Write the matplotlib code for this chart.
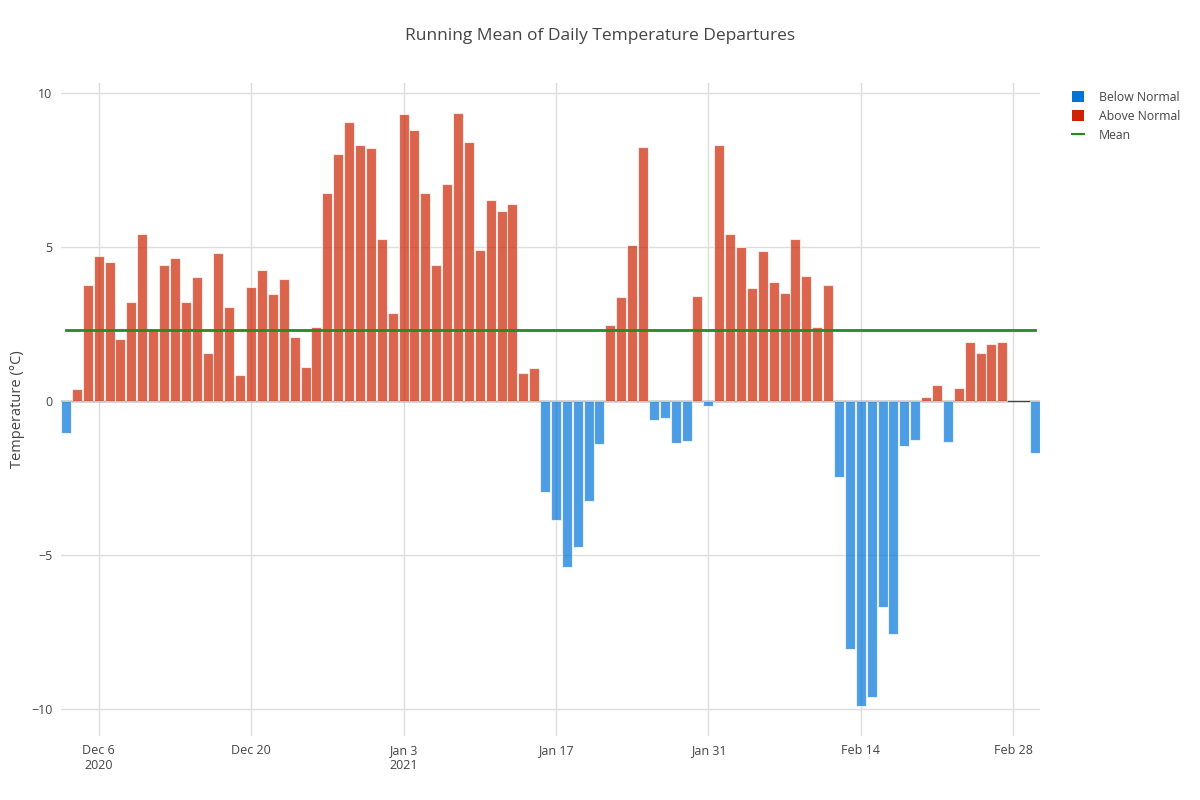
import numpy as np
import pandas as pd
import matplotlib.pyplot as plt
from matplotlib.lines import Line2D
from matplotlib.patches import Patch

# daily departures from normal (degC), Dec 3 2020 - Mar 2 2021, nan = no data
start_date = '2020-12-03'
departures = [
    -1.05, 0.38, 3.77, 4.72, 4.52, 2.02, 3.22, 5.43, 2.35, 4.42,
    4.66, 3.22, 4.03, 1.57, 4.81, 3.07, 0.86, 3.72, 4.27, 3.47,
    3.97, 2.07, 1.12, 2.42, 6.77, 8.02, 9.07, 8.32, 8.22, 5.27,
    2.87, 9.32, 8.82, 6.77, 4.42, 7.07, 9.37, 8.42, 4.92, 6.52,
    6.17, 6.42, 0.92, 1.07, -2.95, -3.85, -5.40, -4.75, -3.25, -1.40,
    2.47, 3.37, 5.07, 8.27, -0.60, -0.55, -1.35, -1.30, 3.42, -0.15,
    8.32, 5.42, 5.02, 3.67, 4.87, 3.87, 3.52, 5.27, 4.07, 2.42,
    3.77, -2.48, -8.05, -9.92, -9.60, -6.70, -7.55, -1.47, -1.27, 0.12,
    0.52, -1.32, 0.42, 1.92, 1.57, 1.87, 1.92, np.nan, np.nan, -1.70,
]
mean_value = 2.3

tick_dates = ['2020-12-06', '2020-12-20', '2021-01-03', '2021-01-17',
              '2021-01-31', '2021-02-14', '2021-02-28']
tick_labels = ['Dec 6\n2020', 'Dec 20', 'Jan 3\n2021', 'Jan 17',
               'Jan 31', 'Feb 14', 'Feb 28']

dates = pd.date_range(start_date, periods=len(departures))
vals = np.array(departures)
below = np.where(vals < 0, vals, np.nan)
above = np.where(vals >= 0, vals, np.nan)

blue = '#0074D9'
red = '#CC2200'
green = '#228B22'
txt = '#444444'

plt.rcParams['font.family'] = ['Open Sans', 'DejaVu Sans']

fig = plt.figure(figsize=(12, 8), dpi=100)
ax = fig.add_axes([0.0505, 0.08, 0.8165, 0.816])

ax.axhline(0, color='#444444', lw=1, zorder=1)
ax.bar(dates, below, width=0.92, color=blue, alpha=0.7,
       edgecolor=(1, 1, 1, 0.5), linewidth=0.8, zorder=2)
ax.bar(dates, above, width=0.92, color=red, alpha=0.7,
       edgecolor=(1, 1, 1, 0.5), linewidth=0.8, zorder=2)
ax.plot([dates[0], dates[-1]], [mean_value, mean_value], color=green,
        lw=2, zorder=3)

ax.set_xlim(dates[0] - pd.Timedelta(hours=12), dates[-1] + pd.Timedelta(hours=12))
ax.set_ylim(-10.88, 10.33)
ax.set_yticks([-10, -5, 0, 5, 10])
ax.set_yticklabels(['\u221210', '\u22125', '0', '5', '10'])
ax.set_xticks(pd.to_datetime(tick_dates))
ax.set_xticklabels(tick_labels)

ax.grid(True, color='#dddddd', lw=1, zorder=0)
ax.set_axisbelow(True)
for s in ax.spines.values():
    s.set_visible(False)
ax.tick_params(length=0, labelsize=9, colors=txt, pad=6)

ax.set_ylabel('Temperature (\u00b0C)', fontsize=10.5, color=txt)
ax.yaxis.set_label_coords(-0.0365, 0.5)
fig.suptitle('Running Mean of Daily Temperature Departures', x=0.5, y=0.965,
             fontsize=12.5, color=txt)

handles = [Patch(facecolor=blue, edgecolor='none'),
           Patch(facecolor=red, edgecolor='none'),
           Line2D([0], [0], color=green, lw=1.5)]
leg = fig.legend(handles, ['Below Normal', 'Above Normal', 'Mean'],
                 loc='upper left', bbox_to_anchor=(0.884, 0.9),
                 frameon=False, fontsize=8.8, labelcolor=txt,
                 handlelength=1.0, handleheight=1.0, handletextpad=1.2,
                 labelspacing=0.5)

fig.savefig('out.png', dpi=100)
